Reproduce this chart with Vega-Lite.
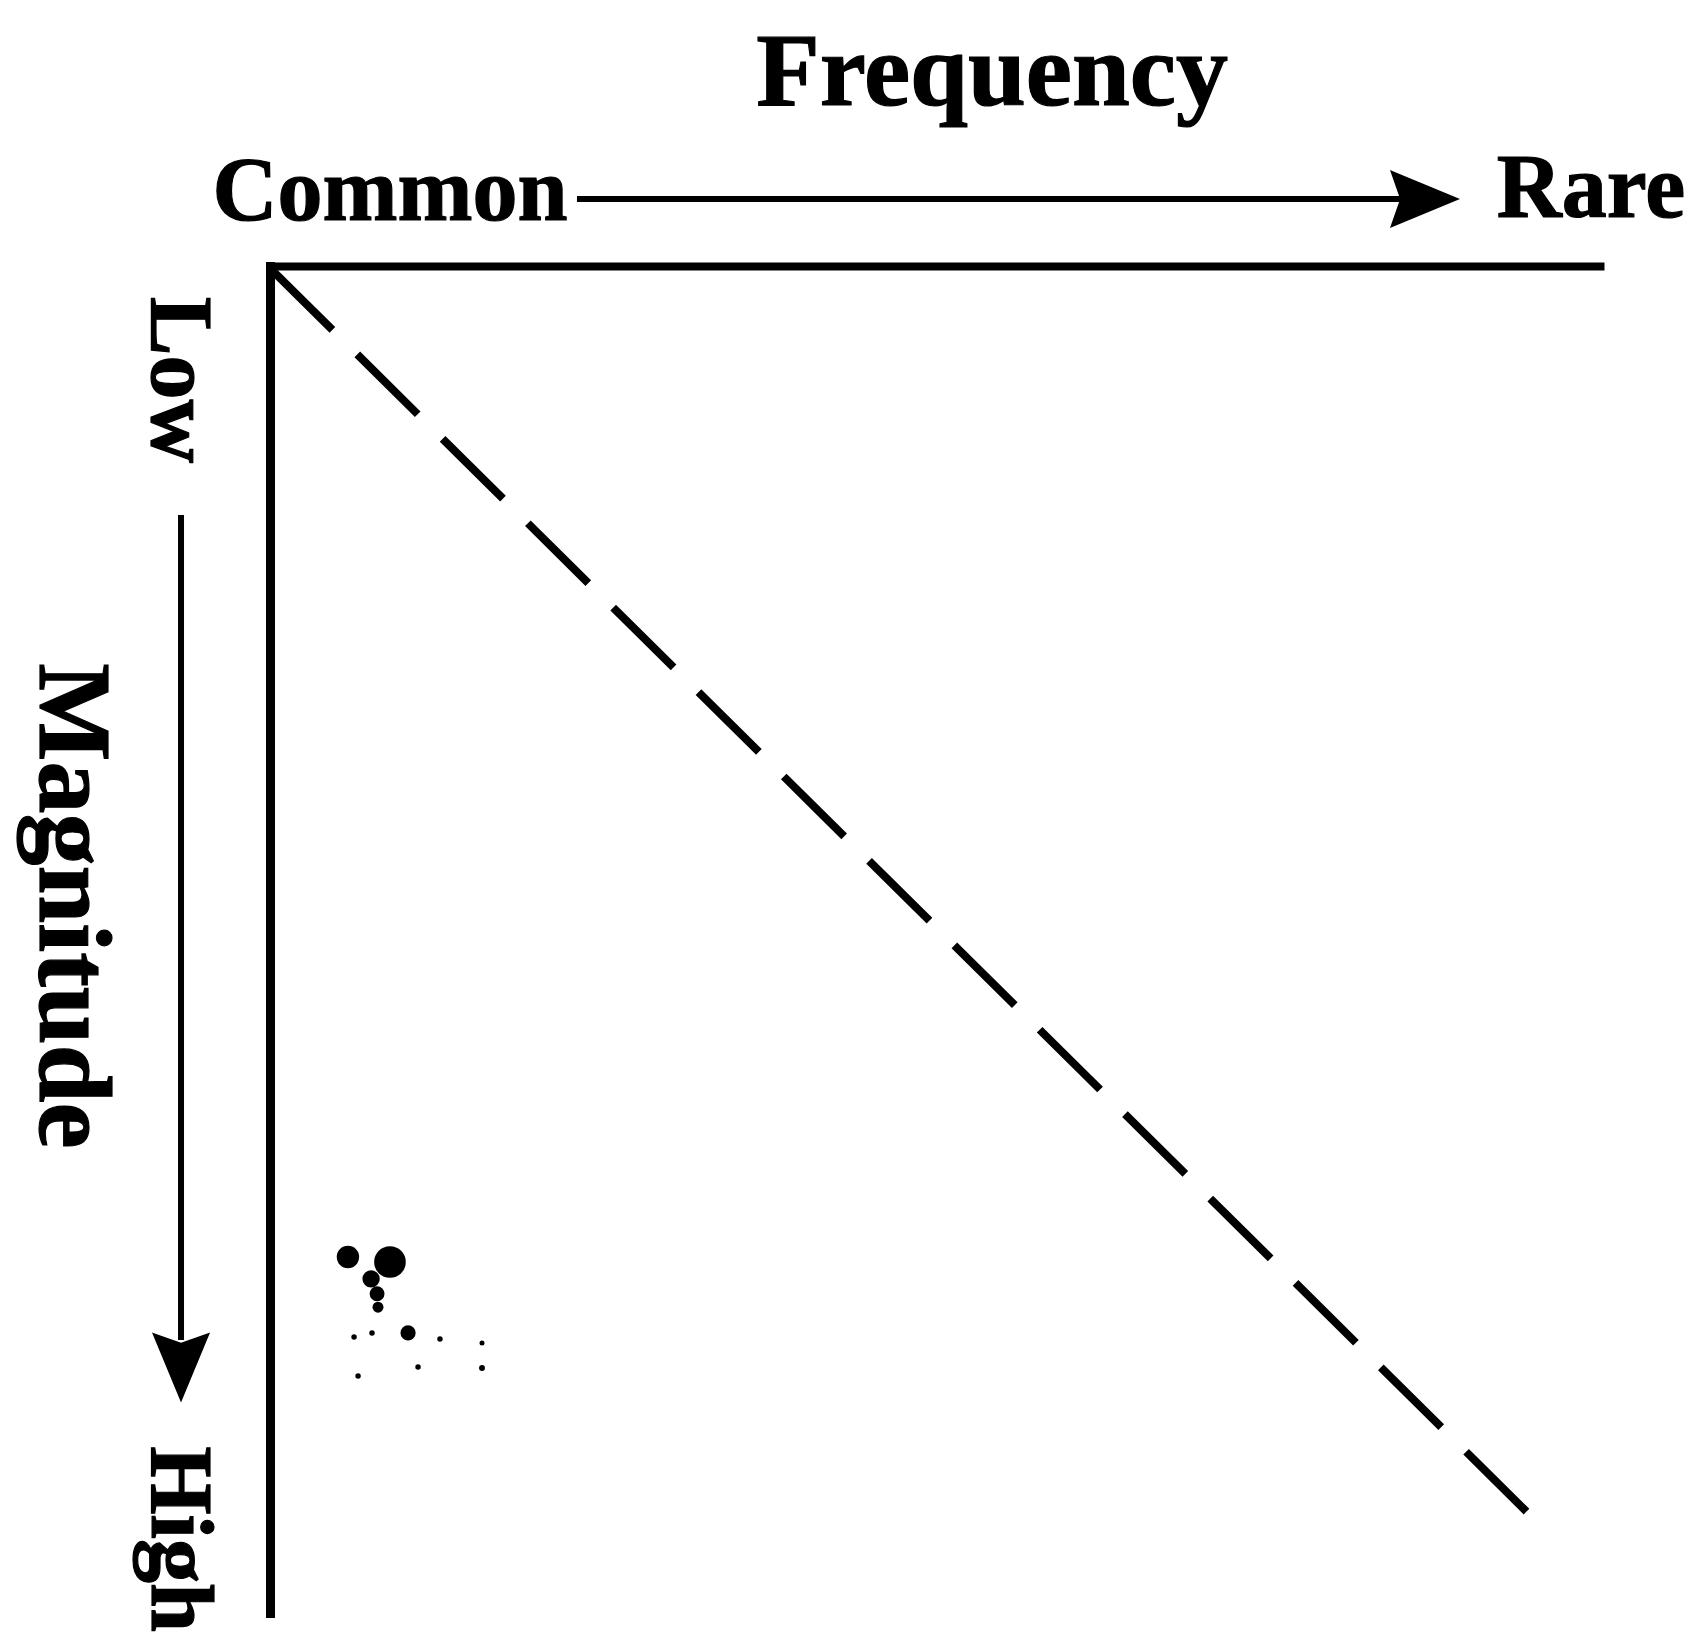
{
  "$schema": "https://vega.github.io/schema/vega-lite/v6.json",
  "width": 1330,
  "height": 1347,
  "autosize": {"type": "none"},
  "padding": {"left": 270, "top": 266, "right": 105, "bottom": 35},
  "background": "white",
  "config": {
    "view": {"stroke": null},
    "text": {"font": "Liberation Serif", "fontWeight": "bold", "color": "black"}
  },
  "datasets": {
    "diag": [
      {"freq": 0.15, "mag": 0.3, "o": 1},
      {"freq": 94.59, "mag": 92.58, "o": 2}
    ],
    "shafts": [
      {"freq": 23.08, "freq2": 84.96, "mag": -4.97, "mag2": -4.97},
      {"freq": -6.69, "freq2": -6.69, "mag": 18.49, "mag2": 79.73}
    ],
    "heads": [
      {"freq": 86.84, "mag": -4.97, "angle": 0},
      {"freq": -6.69, "mag": 81.78, "angle": 90}
    ],
    "labels": [
      {"text": "Frequency", "freq": 54.29, "mag": -11.95, "angle": 0, "fs": 104},
      {"text": "Common", "freq": 9.02, "mag": -3.41, "angle": 0, "fs": 90},
      {"text": "Rare", "freq": 99.32, "mag": -3.64, "angle": 0, "fs": 90},
      {"text": "Low", "freq": -8.9, "mag": 8.46, "angle": 90, "fs": 88},
      {"text": "Magnitude", "freq": -17.29, "mag": 47.51, "angle": 90, "fs": 104},
      {"text": "High", "freq": -8.9, "mag": 94.51, "angle": 90, "fs": 88}
    ],
    "specks": [
      {"freq": 5.86, "mag": 73.57, "s": 500},
      {"freq": 9.02, "mag": 73.94, "s": 1000},
      {"freq": 7.6, "mag": 75.2, "s": 300},
      {"freq": 8.05, "mag": 76.3, "s": 220},
      {"freq": 8.12, "mag": 77.3, "s": 120},
      {"freq": 10.38, "mag": 79.21, "s": 230},
      {"freq": 6.32, "mag": 79.51, "s": 30},
      {"freq": 7.67, "mag": 79.21, "s": 30},
      {"freq": 12.78, "mag": 79.66, "s": 30},
      {"freq": 15.94, "mag": 79.96, "s": 25},
      {"freq": 6.62, "mag": 82.41, "s": 30},
      {"freq": 11.13, "mag": 81.74, "s": 30},
      {"freq": 15.94, "mag": 81.81, "s": 35}
    ]
  },
  "layer": [
    {
      "data": {"name": "diag"},
      "mark": {"type": "line", "color": "black", "strokeWidth": 8, "strokeDash": [85, 35], "strokeCap": "butt"},
      "encoding": {
        "x": {
          "field": "freq", "type": "quantitative",
          "scale": {"domain": [0, 100], "nice": false, "zero": false},
          "axis": {"orient": "top", "labels": false, "ticks": false, "grid": false, "title": null, "domainColor": "black", "domainWidth": 8, "domainCap": "square"}
        },
        "y": {
          "field": "mag", "type": "quantitative",
          "scale": {"domain": [0, 100], "nice": false, "zero": false, "reverse": true},
          "axis": {"orient": "left", "labels": false, "ticks": false, "grid": false, "title": null, "domainColor": "black", "domainWidth": 9, "domainCap": "square"}
        },
        "order": {"field": "o", "type": "quantitative"}
      }
    },
    {
      "data": {"name": "shafts"},
      "mark": {"type": "rule", "color": "black", "strokeWidth": 6},
      "encoding": {
        "x": {"field": "freq", "type": "quantitative"},
        "x2": {"field": "freq2"},
        "y": {"field": "mag", "type": "quantitative"},
        "y2": {"field": "mag2"}
      }
    },
    {
      "data": {"name": "heads"},
      "mark": {"type": "point", "filled": true, "color": "black", "opacity": 1, "shape": "M1,0L-1,-0.83L-0.71,0L-1,0.83Z", "size": 4900},
      "encoding": {
        "x": {"field": "freq", "type": "quantitative"},
        "y": {"field": "mag", "type": "quantitative"},
        "angle": {"field": "angle", "type": "quantitative", "scale": null}
      }
    },
    {
      "data": {"name": "labels"},
      "mark": {"type": "text", "align": "center", "baseline": "alphabetic", "stroke": "black", "strokeWidth": 1.2},
      "encoding": {
        "x": {"field": "freq", "type": "quantitative"},
        "y": {"field": "mag", "type": "quantitative"},
        "text": {"field": "text"},
        "angle": {"field": "angle", "type": "quantitative", "scale": null},
        "size": {"field": "fs", "type": "quantitative", "scale": null}
      }
    },
    {
      "data": {"name": "specks"},
      "mark": {"type": "circle", "color": "black", "opacity": 1},
      "encoding": {
        "x": {"field": "freq", "type": "quantitative"},
        "y": {"field": "mag", "type": "quantitative"},
        "size": {"field": "s", "type": "quantitative", "scale": null}
      }
    }
  ]
}
